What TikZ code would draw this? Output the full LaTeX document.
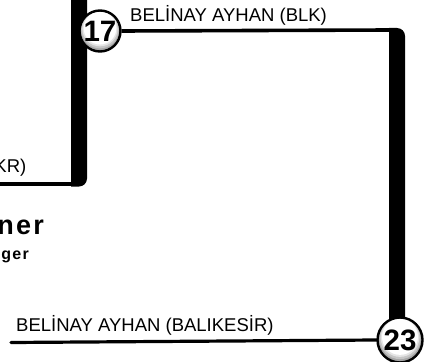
\documentclass[tikz,border=0pt]{standalone}
\usepackage{fontspec}
\setmainfont{Liberation Sans}
\newcommand{\ballbg}[3]{%
  \fill[gray!70] (#1,#2) circle (#3);
  \fill[gray!45] (#1,#2-0.07*#3) circle (0.92*#3);
  \fill[gray!20] (#1,#2-0.11*#3) circle (0.86*#3);
  \fill[white] (#1,#2-0.14*#3) circle (0.8*#3);}
\begin{document}
\begin{tikzpicture}[x=1pt,y=-1pt,
  station/.style={circle,draw=black,line width=2.4pt,inner sep=0pt,
    font=\fontsize{29.5}{30}\selectfont\bfseries},
  lbl/.style={inner sep=0pt,font=\fontsize{18.5}{20}\selectfont},
  thinline/.style={line width=3.6pt,black},
  thickbar/.style={fill=black}]
\useasboundingbox (0,0) rectangle (433,361);
% coordinates
\coordinate (lfree) at (-3,184);
\coordinate (lcorner) at (71,184);
\coordinate (rtop) at (389,30);
\coordinate (bfree) at (11,342.5);
% thick bars
\fill[thickbar] (71,-3) -- (71,186.5) -- (79,186.5) arc[start angle=90,end angle=0,radius=8] -- (87,-3) -- cycle;
\fill[thickbar] (389,28) -- (389,330) -- (405,330) -- (405,36) arc[start angle=0,end angle=-90,radius=8] -- cycle;
% thin lines
\draw[thinline] (lfree) -- (lcorner);
% stations
\ballbg{100}{31}{20.5}
\ballbg{400}{340}{22.5}
\node[station,minimum size=41pt] (c17) at (100,31) {17};
\node[station,minimum size=45pt] (c23) at (400,340) {23};
\draw[thinline] (c17.east) -- (rtop);
\draw[thinline,line width=3.2pt,line cap=round] (bfree) -- (c23.west);
% labels
\node[lbl,anchor=base west] (t1) at (130,22) {BELİNAY AYHAN (BLK)};
\node[lbl,anchor=base west] (t2) at (16,331) {BELİNAY AYHAN (BALIKESİR)};
\node[lbl,anchor=base east] (t3) at (26.5,172) {KR)};
\node[inner sep=0pt,anchor=base east,font=\fontsize{27}{28}\selectfont\bfseries\addfontfeatures{LetterSpace=8}] (t4) at (44,234) {ner};
\node[inner sep=0pt,anchor=base east,font=\fontsize{16}{18}\selectfont\bfseries\addfontfeatures{LetterSpace=8}] (t5) at (29,259) {ger};
\end{tikzpicture}
\end{document}
